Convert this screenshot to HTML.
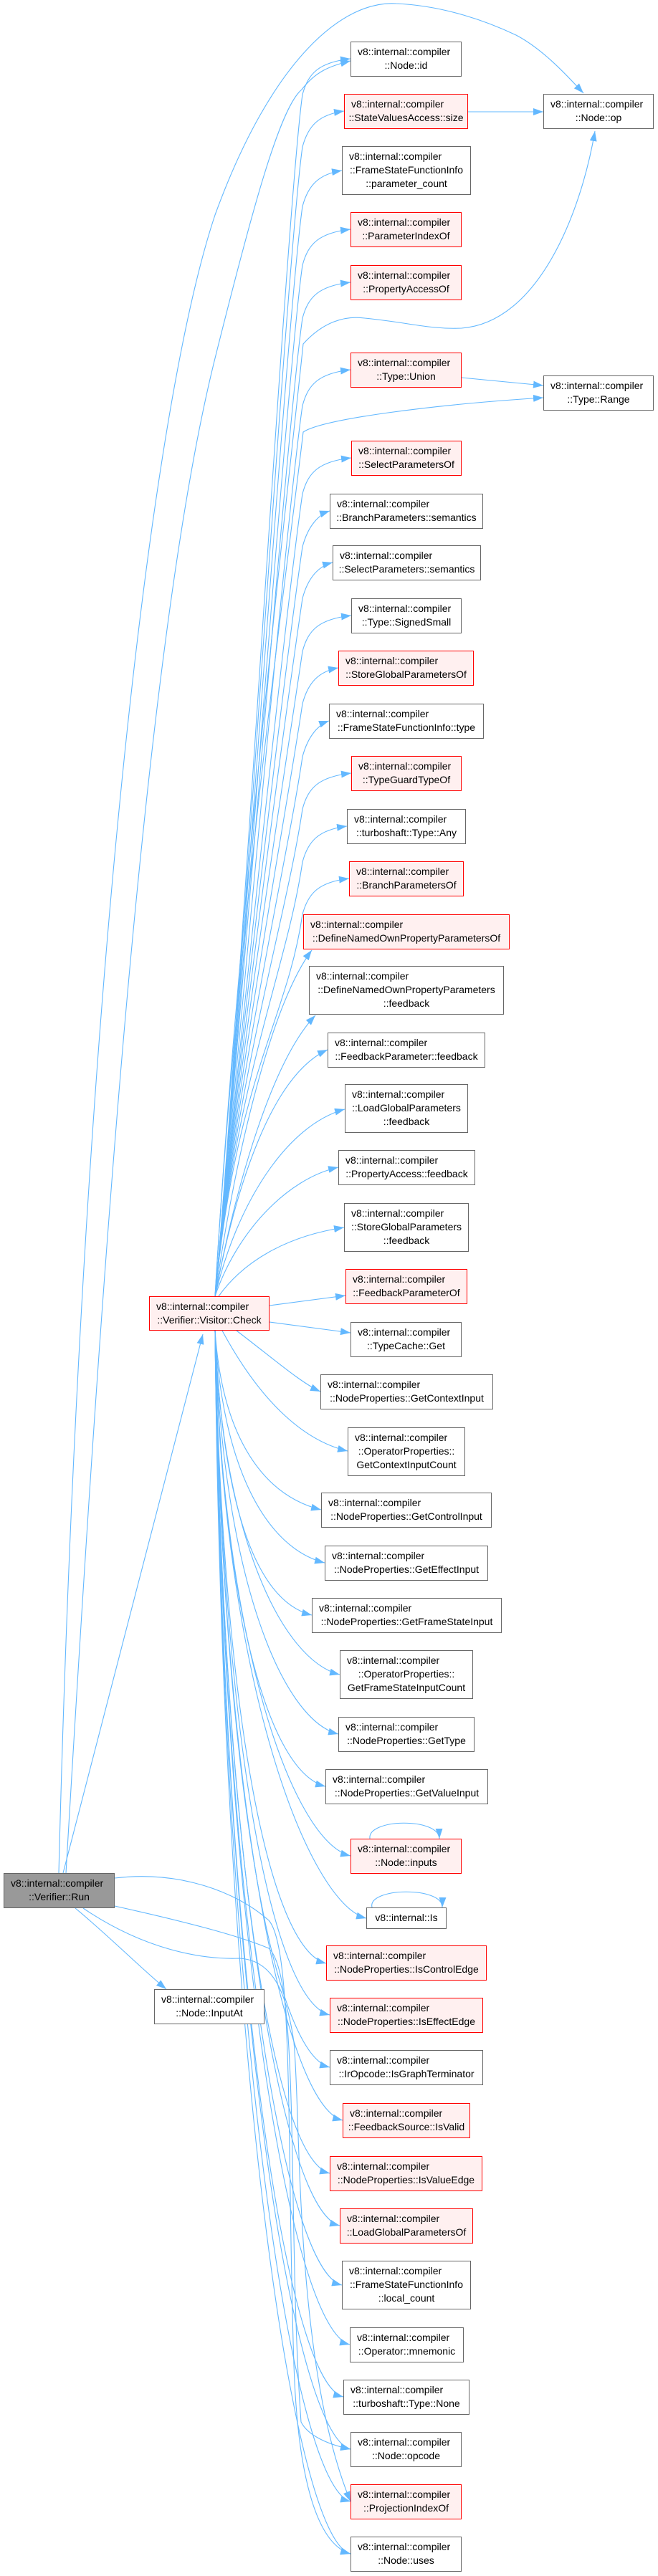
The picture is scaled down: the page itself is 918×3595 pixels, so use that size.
<!DOCTYPE html>
<html><head><meta charset="utf-8"><style>
html,body{margin:0;padding:0;background:#fff;}
body{width:918px;height:3595px;position:relative;overflow:hidden;font-family:"Liberation Sans",sans-serif;}
.b{position:absolute;box-sizing:border-box;border:1px solid #666;background:#fff;font-size:14px;line-height:19px;padding-top:4px;text-align:center;color:#000;white-space:nowrap;}
.b span{display:block;}
.b span:first-child{text-align:left;padding-left:9px;}
.r{border-color:#ff0000;background:#fff0f0;}
.g{background:#999;border-color:#666;}
svg{position:absolute;left:0;top:0;}
</style></head><body>
<svg width="918" height="3595" viewBox="0 0 918 3595">
<defs><marker id="a" markerUnits="userSpaceOnUse" markerWidth="14" markerHeight="10" refX="14" refY="5" orient="auto"><path d="M0,0 L14,5 L0,10 z" fill="#63b8ff"/></marker></defs>
<g fill="none" stroke="#63b8ff" stroke-width="1.1" marker-end="url(#a)">
<path d="M82,2614 C110,1500 200,600 300,300 C380,80 480,0 553,5 C620,8 680,30 720,49 C760,70 795,110 814,130"/>
<path d="M92,2614 C140,1800 200,900 300,500 C350,300 390,150 421,125 C440,100 460,92 489,85"/>
<path d="M88,2614 L283,1862"/>
<path d="M105,2663 C150,2700 200,2750 232,2776"/>
<path d="M160,2621 C250,2610 330,2640 375,2680 C410,2720 400,3000 410,3300 C415,3450 440,3550 489,3564"/>
<path d="M160,2660 C250,2680 330,2700 375,2719 C420,2760 400,3100 420,3380 C430,3400 460,3412 489,3418"/>
<path d="M116,2663 C200,2720 280,2735 334,2733 C380,2735 400,2780 410,2850 C420,2950 410,3300 489,3491"/>
<path d="M300,1809 C330,1300 400,700 423,480 C450,450 480,440 509,444 C570,450 600,460 644,458 C750,450 810,300 830,183"/>
<path d="M300,1809 C330,1300 400,800 423,603 C450,585 600,565 758,555"/>
<path d="M644,527 L758,538"/>
<path d="M653,156 L758,156"/>
<path d="M300,1809 C330,1500 400,282 422,132 C430,102 445,87 489,82"/>
<path d="M300,1809 C330,1500 400,355 422,205 C430,175 445,160 480,155"/>
<path d="M300,1809 C330,1500 400,438 422,288 C430,258 445,243 477,238"/>
<path d="M300,1809 C330,1500 400,520 422,370 C430,340 445,325 489,320"/>
<path d="M300,1809 C330,1500 400,594 422,444 C430,414 445,399 489,394"/>
<path d="M300,1809 C330,1500 400,716 422,566 C430,536 445,521 489,516"/>
<path d="M300,1809 C330,1500 400,839 422,689 C430,659 445,644 490,639"/>
<path d="M300,1809 C330,1500 400,913 422,763 C430,733 445,718 460,713"/>
<path d="M300,1809 C330,1500 400,985 422,835 C430,805 445,790 464,785"/>
<path d="M300,1809 C330,1500 400,1059 422,909 C430,879 445,864 490,859"/>
<path d="M300,1809 C330,1500 400,1132 422,982 C430,952 445,937 472,932"/>
<path d="M300,1809 C330,1500 400,1206 422,1056 C430,1026 445,1011 459,1006"/>
<path d="M300,1809 C330,1500 400,1279 422,1129 C430,1099 445,1084 490,1079"/>
<path d="M300,1809 C330,1500 400,1353 422,1203 C430,1173 445,1158 484,1153"/>
<path d="M300,1809 C330,1500 400,1426 422,1276 C430,1246 445,1231 487,1226"/>
<path d="M300,1809 C330,1600 380,1400 435,1326"/>
<path d="M300,1809 C330,1650 380,1480 440,1417"/>
<path d="M300,1809 C330,1650 380,1500 457,1465"/>
<path d="M300,1809 C330,1680 400,1570 481,1548"/>
<path d="M300,1809 C330,1720 400,1645 472,1629"/>
<path d="M305,1809 C340,1760 400,1725 480,1713"/>
<path d="M376,1822 L482,1808"/>
<path d="M376,1845 L489,1860"/>
<path d="M330,1857 C380,1895 420,1930 447,1942"/>
<path d="M310,1857 C360,1950 420,2010 485,2025"/>
<path d="M300,1857 C310,2007 368,2087 448,2107"/>
<path d="M300,1857 C310,2051 373,2161 453,2181"/>
<path d="M300,1857 C310,2095 355,2234 435,2254"/>
<path d="M300,1857 C310,2145 394,2317 474,2337"/>
<path d="M300,1857 C310,2195 392,2400 472,2420"/>
<path d="M300,1857 C310,2239 374,2473 454,2493"/>
<path d="M300,1857 C310,2297 409,2570 489,2590"/>
<path d="M300,1857 C310,2349 431,2657 511,2677"/>
<path d="M300,1857 C310,2387 375,2720 455,2740"/>
<path d="M300,1857 C310,2430 380,2792 460,2812"/>
<path d="M300,1857 C310,2474 380,2865 460,2885"/>
<path d="M300,1857 C310,2518 398,2939 478,2959"/>
<path d="M300,1857 C310,2563 380,3013 460,3033"/>
<path d="M300,1857 C310,2606 394,3086 474,3106"/>
<path d="M300,1857 C310,2656 397,3169 477,3189"/>
<path d="M300,1857 C310,2706 408,3252 488,3272"/>
<path d="M300,1857 C310,2750 399,3325 479,3345"/>
<path d="M300,1857 C310,2794 409,3398 489,3418"/>
<path d="M300,1857 C310,2837 409,3471 489,3491"/>
<path d="M300,1857 C310,2881 409,3544 489,3564"/>
<path d="M516,2566 C512,2538 612,2536 613,2566"/>
<path d="M519,2662 C512,2634 618,2632 617,2662"/>
</g></svg>

<div class="b" style="left:489px;top:58px;width:155px;height:49px"><span>v8::internal::compiler</span><span>::Node::id</span></div>
<div class="b r" style="left:480px;top:131px;width:173px;height:49px"><span>v8::internal::compiler</span><span>::StateValuesAccess::size</span></div>
<div class="b" style="left:758px;top:131px;width:154px;height:49px"><span>v8::internal::compiler</span><span>::Node::op</span></div>
<div class="b" style="left:477px;top:204px;width:180px;height:68px"><span>v8::internal::compiler</span><span>::FrameStateFunctionInfo</span><span>::parameter_count</span></div>
<div class="b r" style="left:489px;top:296px;width:155px;height:49px"><span>v8::internal::compiler</span><span>::ParameterIndexOf</span></div>
<div class="b r" style="left:489px;top:370px;width:155px;height:49px"><span>v8::internal::compiler</span><span>::PropertyAccessOf</span></div>
<div class="b r" style="left:489px;top:492px;width:155px;height:49px"><span>v8::internal::compiler</span><span>::Type::Union</span></div>
<div class="b" style="left:758px;top:524px;width:154px;height:49px"><span>v8::internal::compiler</span><span>::Type::Range</span></div>
<div class="b r" style="left:490px;top:615px;width:154px;height:49px"><span>v8::internal::compiler</span><span>::SelectParametersOf</span></div>
<div class="b" style="left:460px;top:689px;width:214px;height:49px"><span>v8::internal::compiler</span><span>::BranchParameters::semantics</span></div>
<div class="b" style="left:464px;top:761px;width:207px;height:49px"><span>v8::internal::compiler</span><span>::SelectParameters::semantics</span></div>
<div class="b" style="left:490px;top:835px;width:154px;height:49px"><span>v8::internal::compiler</span><span>::Type::SignedSmall</span></div>
<div class="b r" style="left:472px;top:908px;width:189px;height:49px"><span>v8::internal::compiler</span><span>::StoreGlobalParametersOf</span></div>
<div class="b" style="left:459px;top:982px;width:216px;height:49px"><span>v8::internal::compiler</span><span>::FrameStateFunctionInfo::type</span></div>
<div class="b r" style="left:490px;top:1055px;width:154px;height:49px"><span>v8::internal::compiler</span><span>::TypeGuardTypeOf</span></div>
<div class="b" style="left:484px;top:1129px;width:166px;height:49px"><span>v8::internal::compiler</span><span>::turboshaft::Type::Any</span></div>
<div class="b r" style="left:487px;top:1202px;width:160px;height:49px"><span>v8::internal::compiler</span><span>::BranchParametersOf</span></div>
<div class="b r" style="left:423px;top:1276px;width:288px;height:49px"><span>v8::internal::compiler</span><span>::DefineNamedOwnPropertyParametersOf</span></div>
<div class="b" style="left:431px;top:1348px;width:272px;height:68px"><span>v8::internal::compiler</span><span>::DefineNamedOwnPropertyParameters</span><span>::feedback</span></div>
<div class="b" style="left:457px;top:1441px;width:220px;height:49px"><span>v8::internal::compiler</span><span>::FeedbackParameter::feedback</span></div>
<div class="b" style="left:481px;top:1513px;width:172px;height:68px"><span>v8::internal::compiler</span><span>::LoadGlobalParameters</span><span>::feedback</span></div>
<div class="b" style="left:472px;top:1605px;width:191px;height:49px"><span>v8::internal::compiler</span><span>::PropertyAccess::feedback</span></div>
<div class="b" style="left:480px;top:1679px;width:174px;height:68px"><span>v8::internal::compiler</span><span>::StoreGlobalParameters</span><span>::feedback</span></div>
<div class="b r" style="left:482px;top:1771px;width:170px;height:49px"><span>v8::internal::compiler</span><span>::FeedbackParameterOf</span></div>
<div class="b r" style="left:208px;top:1809px;width:168px;height:48px"><span>v8::internal::compiler</span><span>::Verifier::Visitor::Check</span></div>
<div class="b" style="left:489px;top:1845px;width:155px;height:49px"><span>v8::internal::compiler</span><span>::TypeCache::Get</span></div>
<div class="b" style="left:447px;top:1918px;width:241px;height:49px"><span>v8::internal::compiler</span><span>::NodeProperties::GetContextInput</span></div>
<div class="b" style="left:485px;top:1992px;width:164px;height:68px"><span>v8::internal::compiler</span><span>::OperatorProperties::</span><span>GetContextInputCount</span></div>
<div class="b" style="left:448px;top:2083px;width:238px;height:49px"><span>v8::internal::compiler</span><span>::NodeProperties::GetControlInput</span></div>
<div class="b" style="left:453px;top:2157px;width:228px;height:49px"><span>v8::internal::compiler</span><span>::NodeProperties::GetEffectInput</span></div>
<div class="b" style="left:435px;top:2230px;width:265px;height:49px"><span>v8::internal::compiler</span><span>::NodeProperties::GetFrameStateInput</span></div>
<div class="b" style="left:474px;top:2303px;width:186px;height:68px"><span>v8::internal::compiler</span><span>::OperatorProperties::</span><span>GetFrameStateInputCount</span></div>
<div class="b" style="left:472px;top:2396px;width:190px;height:49px"><span>v8::internal::compiler</span><span>::NodeProperties::GetType</span></div>
<div class="b" style="left:454px;top:2469px;width:227px;height:49px"><span>v8::internal::compiler</span><span>::NodeProperties::GetValueInput</span></div>
<div class="b r" style="left:489px;top:2566px;width:155px;height:49px"><span>v8::internal::compiler</span><span>::Node::inputs</span></div>
<div class="b g" style="left:5px;top:2614px;width:155px;height:49px"><span>v8::internal::compiler</span><span>::Verifier::Run</span></div>
<div class="b" style="left:511px;top:2662px;width:112px;height:30px"><span style="text-align:center;padding-left:0">v8::internal::Is</span></div>
<div class="b r" style="left:455px;top:2715px;width:224px;height:49px"><span>v8::internal::compiler</span><span>::NodeProperties::IsControlEdge</span></div>
<div class="b" style="left:215px;top:2776px;width:154px;height:49px"><span>v8::internal::compiler</span><span>::Node::InputAt</span></div>
<div class="b r" style="left:460px;top:2788px;width:214px;height:49px"><span>v8::internal::compiler</span><span>::NodeProperties::IsEffectEdge</span></div>
<div class="b" style="left:460px;top:2861px;width:214px;height:49px"><span>v8::internal::compiler</span><span>::IrOpcode::IsGraphTerminator</span></div>
<div class="b r" style="left:478px;top:2935px;width:178px;height:49px"><span>v8::internal::compiler</span><span>::FeedbackSource::IsValid</span></div>
<div class="b r" style="left:460px;top:3009px;width:213px;height:49px"><span>v8::internal::compiler</span><span>::NodeProperties::IsValueEdge</span></div>
<div class="b r" style="left:474px;top:3082px;width:186px;height:49px"><span>v8::internal::compiler</span><span>::LoadGlobalParametersOf</span></div>
<div class="b" style="left:477px;top:3155px;width:180px;height:68px"><span>v8::internal::compiler</span><span>::FrameStateFunctionInfo</span><span>::local_count</span></div>
<div class="b" style="left:488px;top:3248px;width:159px;height:49px"><span>v8::internal::compiler</span><span>::Operator::mnemonic</span></div>
<div class="b" style="left:479px;top:3321px;width:176px;height:49px"><span>v8::internal::compiler</span><span>::turboshaft::Type::None</span></div>
<div class="b" style="left:489px;top:3394px;width:155px;height:49px"><span>v8::internal::compiler</span><span>::Node::opcode</span></div>
<div class="b r" style="left:489px;top:3467px;width:155px;height:49px"><span>v8::internal::compiler</span><span>::ProjectionIndexOf</span></div>
<div class="b" style="left:489px;top:3540px;width:155px;height:49px"><span>v8::internal::compiler</span><span>::Node::uses</span></div>
</body></html>
